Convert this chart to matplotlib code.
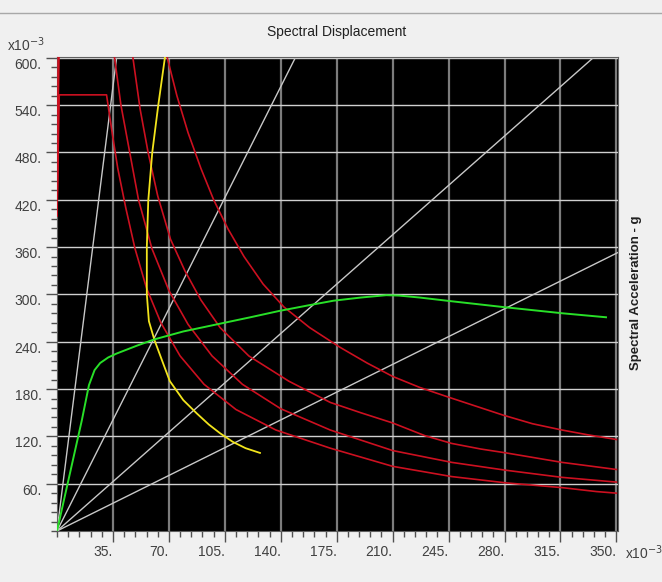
# Capacity spectrum plot (SAP2000 style): capacity curve, demand spectra, period lines

import numpy as np
import matplotlib
matplotlib.use("Agg")
import matplotlib.pyplot as plt
from matplotlib.ticker import MultipleLocator
from matplotlib.lines import Line2D

plt.rcParams["font.family"] = ["Liberation Sans Narrow", "Liberation Sans", "DejaVu Sans"]

# capacity curve (green)
cap_sd = [0.0, 0.0155, 0.020, 0.0235, 0.027, 0.032, 0.0373, 0.050, 0.061, 0.079, 0.100,
          0.121, 0.139, 0.157, 0.173, 0.190, 0.206, 0.214, 0.227, 0.246, 0.279, 0.3165, 0.3435]
cap_sa = [0.0, 0.140, 0.185, 0.204, 0.213, 0.220, 0.225, 0.235, 0.243, 0.253, 0.262,
          0.271, 0.279, 0.286, 0.292, 0.296, 0.299, 0.2985, 0.296, 0.2915, 0.284, 0.276, 0.271]

# single demand spectrum (yellow)
dem_sd = [0.0675, 0.0633, 0.0596, 0.0571, 0.0562, 0.0562, 0.0575, 0.061, 0.0665, 0.0706,
          0.079, 0.0875, 0.095, 0.102, 0.110, 0.118, 0.127]
dem_sa = [0.600, 0.539, 0.480, 0.419, 0.360, 0.300, 0.266, 0.242, 0.212, 0.190,
          0.166, 0.149, 0.135, 0.124, 0.113, 0.105, 0.099]

# demand spectra for the damping levels (red)
spec_a_sd = [0.0, 0.0014, 0.031, 0.0345, 0.038, 0.043, 0.0488, 0.056, 0.065, 0.077, 0.092,
             0.112, 0.137, 0.171, 0.210, 0.247, 0.281, 0.316, 0.3375, 0.350]
spec_a_sa = [0.400, 0.553, 0.553, 0.505, 0.460, 0.410, 0.358, 0.308, 0.264, 0.222, 0.186,
             0.154, 0.128, 0.105, 0.082, 0.069, 0.061, 0.055, 0.050, 0.048]

spec_b_sd = [0.0, 0.0017, 0.030, 0.036, 0.040, 0.0455, 0.051, 0.0594, 0.070, 0.082, 0.097,
             0.116, 0.140, 0.171, 0.210, 0.247, 0.281, 0.316, 0.350]
spec_b_sa = [0.400, 0.700, 0.700, 0.600, 0.540, 0.480, 0.420, 0.358, 0.305, 0.262, 0.222,
             0.186, 0.155, 0.128, 0.102, 0.087, 0.077, 0.068, 0.062]

spec_c_sd = [0.0, 0.0019, 0.034, 0.0475, 0.052, 0.057, 0.063, 0.071, 0.080, 0.090, 0.102,
             0.120, 0.145, 0.171, 0.190, 0.210, 0.230, 0.247, 0.265, 0.281, 0.316, 0.350]
spec_c_sa = [0.400, 0.800, 0.800, 0.600, 0.535, 0.480, 0.425, 0.370, 0.330, 0.293, 0.258,
             0.222, 0.190, 0.163, 0.150, 0.137, 0.121, 0.111, 0.104, 0.099, 0.087, 0.078]

spec_d_sd = [0.0, 0.0022, 0.042, 0.069, 0.075, 0.082, 0.090, 0.098, 0.107, 0.117, 0.129,
             0.142, 0.158, 0.177, 0.194, 0.210, 0.227, 0.246, 0.264, 0.279, 0.2975, 0.316,
             0.332, 0.350]
spec_d_sa = [0.400, 0.950, 0.950, 0.600, 0.552, 0.505, 0.460, 0.420, 0.383, 0.348, 0.313,
             0.284, 0.258, 0.233, 0.213, 0.196, 0.182, 0.169, 0.157, 0.147, 0.136, 0.128,
             0.122, 0.116]

# constant period lines (s)
periods = [0.5, 1.0, 1.5, 2.0]
G = 9.81

x_ticks = [0.035, 0.070, 0.105, 0.140, 0.175, 0.210, 0.245, 0.280, 0.315, 0.350]
x_labels = ["35.", "70.", "105.", "140.", "175.", "210.", "245.", "280.", "315.", "350."]
y_ticks = [0.06, 0.12, 0.18, 0.24, 0.30, 0.36, 0.42, 0.48, 0.54, 0.60]
y_labels = ["60.", "120.", "180.", "240.", "300.", "360.", "420.", "480.", "540.", "600."]

RED = "#cc1020"

fig = plt.figure(figsize=(6.62, 5.82), dpi=100, facecolor="#f0f0f0")
ax = fig.add_axes([57 / 662, 51 / 582, 561 / 662, 474 / 582])
ax.set_facecolor("black")

# grid
for x in x_ticks:
    ax.axvline(x, color="#7c7c7c", lw=1.6, zorder=1)
for y in y_ticks:
    ax.axhline(y, color="#d0d0d0", lw=1.0, zorder=1)

# period lines
sd_line = np.array([0.0, 0.5])
for T in periods:
    ax.plot(sd_line, sd_line * (2 * np.pi / T) ** 2 / G, color="#c8c8c8", lw=1.0, zorder=2)

for sd, sa in [(spec_a_sd, spec_a_sa), (spec_b_sd, spec_b_sa),
               (spec_c_sd, spec_c_sa), (spec_d_sd, spec_d_sa)]:
    ax.plot(sd, sa, color=RED, lw=1.2, zorder=3, solid_joinstyle="round")

ax.plot(dem_sd, dem_sa, color="#f2e41c", lw=1.3, zorder=4, solid_joinstyle="round")
ax.plot(cap_sd, cap_sa, color="#28e028", lw=1.4, zorder=5, solid_joinstyle="round")

ax.set_xlim(0, 0.351)
ax.set_ylim(0, 0.601)

ax.set_xticks(x_ticks)
ax.set_xticklabels(x_labels)
ax.set_yticks(y_ticks)
ax.set_yticklabels(y_labels)
ax.xaxis.set_minor_locator(MultipleLocator(0.007))
ax.yaxis.set_minor_locator(MultipleLocator(0.012))
ax.tick_params(which="major", direction="out", length=8, width=1, color="#505050",
               labelcolor="#404040", labelsize=10)
ax.tick_params(which="minor", direction="out", length=4, width=1, color="#505050")
ax.tick_params(axis="x", pad=2)
ax.tick_params(axis="y", pad=3)
for lab in ax.get_xticklabels():
    lab.set_ha("right")
for lab in ax.get_yticklabels():
    lab.set_va("top")

for s in ax.spines.values():
    s.set_color("#606060")

fig.text(0.509, 0.945, "Spectral Displacement", ha="center", va="center",
         fontsize=10, color="#202020")
fig.text(0.961, 0.497, "Spectral Acceleration - g", ha="center", va="center",
         rotation=90, fontsize=9.5, fontweight="bold", color="#202020")
fig.text(0.011, 0.924, r"x10$^{-3}$", ha="left", va="center", fontsize=10, color="#404040")
fig.text(0.944, 0.050, r"x10$^{-3}$", ha="left", va="center", fontsize=10, color="#404040")

# window border line at the top
fig.add_artist(Line2D([0, 1], [0.978, 0.978], color="#a8a8a8", lw=1.0))

fig.savefig("out.png", dpi=100, facecolor=fig.get_facecolor())
